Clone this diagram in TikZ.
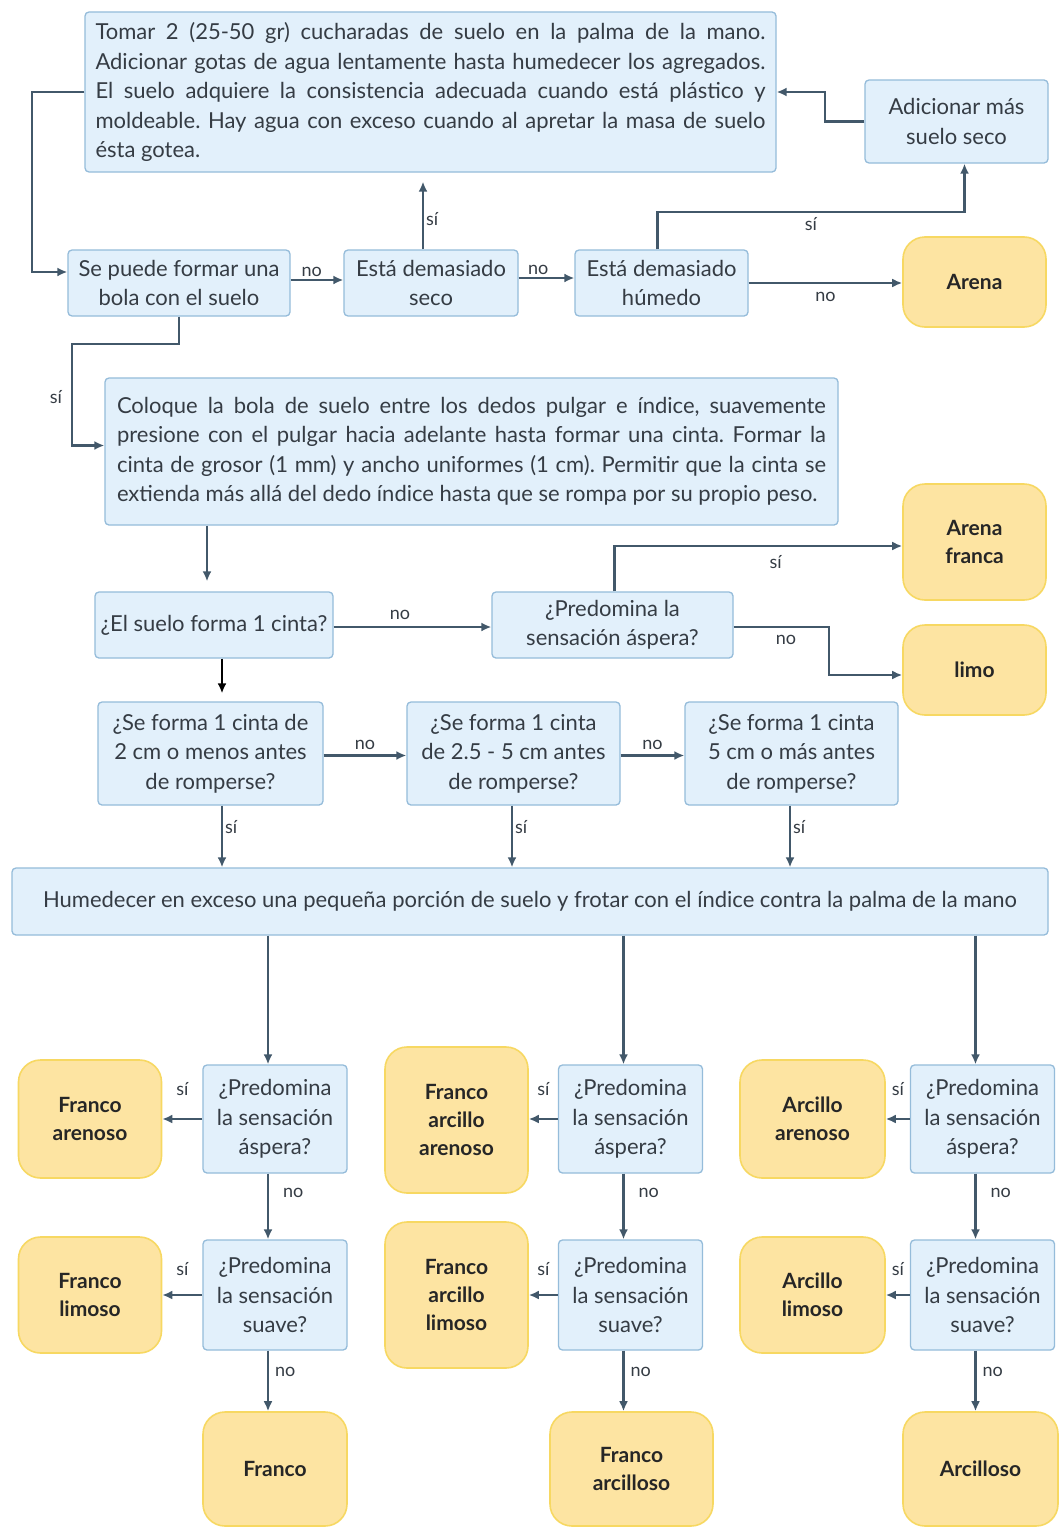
\documentclass[tikz,border=0pt]{standalone}
\usepackage{fontspec}
\setmainfont{Lato}
\usetikzlibrary{arrows.meta}
\definecolor{bfill}{HTML}{E2F0FB}
\definecolor{bline}{HTML}{95BCDA}
\definecolor{yfill}{HTML}{FDE4A2}
\definecolor{yline}{HTML}{F7D862}
\definecolor{txt}{HTML}{353C44}
\definecolor{acol}{HTML}{42586A}
\tikzset{
  qbox/.style={draw=bline, fill=bfill, rounded corners=4pt, line width=1.3pt, text=txt,
    align=center, inner sep=0pt, font=\fontsize{22}{29.5}\selectfont},
  res/.style={draw=yline, fill=yfill, rounded corners=22pt, line width=1.6pt, text=black!85,
    align=center, inner sep=0pt, minimum width=143pt, font=\bfseries\fontsize{21}{28}\selectfont},
  arr/.style={draw=acol, line width=2.2pt, -{Latex[length=10pt,width=9pt]}},
  lab/.style={text=txt, font=\fontsize{18}{20}\selectfont, inner sep=2pt},
}
\begin{document}
\frenchspacing
\begin{tikzpicture}[x=1pt,y=-1pt]
\useasboundingbox (0,0) rectangle (1062,1528);
\fill[white] (0,0) rectangle (1062,1528);

% ---------- top part ----------
\node[qbox, minimum width=691pt, minimum height=160pt, text width=670pt, align=justify] (T1) at (430.5,92)
 {Tomar 2 (25-50 gr) cucharadas de suelo en la palma de la mano.\linebreak
  Adicionar gotas de agua lentamente hasta humedecer los agregados.\linebreak
  El suelo adquiere la consistencia adecuada cuando está plástico y\linebreak
  moldeable. Hay agua con exceso cuando al apretar la masa de suelo\linebreak
  ésta gotea.};
\node[qbox, minimum width=183pt, minimum height=83pt] (Adic) at (956.5,121.5) {Adicionar más\\suelo seco};
\node[qbox, minimum width=222pt, minimum height=66pt] (SeP) at (179,283) {Se puede formar una\\bola con el suelo};
\node[qbox, minimum width=174pt, minimum height=66pt] (Seco) at (431,283) {Está demasiado\\seco};
\node[qbox, minimum width=173pt, minimum height=66pt] (Hum) at (661.5,283) {Está demasiado\\húmedo};
\node[res, minimum height=90pt] (Arena) at (974.5,282) {Arena};

\node[qbox, minimum width=733pt, minimum height=147pt, text width=709pt, align=justify] (Col) at (471.5,451.5)
 {Coloque la bola de suelo entre los dedos pulgar e índice, suavemente\linebreak
  presione con el pulgar hacia adelante hasta formar una cinta. Formar la\linebreak
  cinta de grosor (1 mm) y ancho uniformes (1 cm). Permitir que la cinta se\linebreak
  extienda más allá del dedo índice hasta que se rompa por su propio peso.};

\node[qbox, minimum width=238pt, minimum height=66pt] (Cinta) at (214,625) {¿El suelo forma 1 cinta?};
\node[qbox, minimum width=241pt, minimum height=66pt] (PredA) at (612.5,625) {¿Predomina la\\sensación áspera?};
\node[res, minimum height=116pt] (ArenaF) at (974.5,542) {Arena\\franca};
\node[res, minimum height=90pt] (Limo) at (974.5,670) {limo};

\node[qbox, minimum width=225pt, minimum height=103pt] (A) at (210.5,753.5) {¿Se forma 1 cinta de\\2 cm o menos antes\\de romperse?};
\node[qbox, minimum width=213pt, minimum height=103pt] (B) at (513.5,753.5) {¿Se forma 1 cinta\\de 2.5 - 5 cm antes\\de romperse?};
\node[qbox, minimum width=213pt, minimum height=103pt] (C) at (791.5,753.5) {¿Se forma 1 cinta\\5 cm o más antes\\de romperse?};

\node[qbox, minimum width=1036pt, minimum height=67pt] (H2) at (530,901.5)
 {Humedecer en exceso una pequeña porción de suelo y frotar con el índice contra la palma de la mano};

% ---------- bottom part ----------
\foreach \n/\x in {1/275,2/630.5,3/982.5}{
  \node[qbox, minimum width=144pt, minimum height=108pt] (Qa\n) at (\x,1119) {¿Predomina\\la sensación\\áspera?};
  \node[qbox, minimum width=144pt, minimum height=110pt] (Qb\n) at (\x,1295) {¿Predomina\\la sensación\\suave?};
}
\node[res, minimum height=118pt] (FA) at (90,1119) {Franco\\arenoso};
\node[res, minimum height=146pt] (FAA) at (456.5,1120) {Franco\\arcillo\\arenoso};
\node[res, minimum width=145pt, minimum height=118pt] (AA) at (812.5,1119) {Arcillo\\arenoso};
\node[res, minimum height=116pt] (FL) at (90,1295) {Franco\\limoso};
\node[res, minimum height=146pt] (FAL) at (456.5,1295) {Franco\\arcillo\\limoso};
\node[res, minimum width=145pt, minimum height=116pt] (AL) at (812.5,1295) {Arcillo\\limoso};
\node[res, minimum width=144pt, minimum height=114pt] (F) at (275,1469) {Franco};
\node[res, minimum width=163pt, minimum height=114pt] (FArc) at (631.5,1469) {Franco\\arcilloso};
\node[res, minimum width=155pt, minimum height=114pt] (Arc) at (980.5,1469) {Arcilloso};

% ---------- connectors ----------
\draw[arr] (T1.west) -- ++(-52,0) |- ([yshift=11pt]SeP.west);
\draw[arr] ([yshift=3pt]SeP.east) -- node[lab, above, pos=0.4] (l1) {no} ([yshift=3pt]Seco.west);
\draw[arr, shorten >=9pt] ([xshift=-8pt]Seco.north) -- node[lab, right, pos=0.4] (l2) {sí} ([xshift=-8pt]Seco.north |- T1.south);
\draw[arr] ([yshift=5pt]Seco.east) -- node[lab, above, pos=0.35] (l3) {no} ([yshift=5pt]Hum.west);
\draw[arr] ([xshift=-4pt]Hum.north) -- ++(0,-37) -| node[lab, below=2pt, pos=0.25] (l4) {sí} ([xshift=8pt]Adic.south);
\draw[arr] (Adic.west) -- ++(-39,0) |- (T1.east);
\draw[arr] (Hum.east) -- node[lab, below=6pt, pos=0.5] (l5) {no} (Hum.east -| Arena.west);
\draw[arr] (SeP.south) -- ++(0,27) -- ++(-107,0) |- node[lab, left=7pt, pos=0.26] (l6) {sí} ([yshift=6pt]Col.west);

\draw[arr, shorten >=10pt] ([xshift=-7pt]Col.south -| Cinta.north) -- ([xshift=-7pt]Cinta.north);
\draw[arr] ([yshift=-2pt]Cinta.east) -- node[lab, above=4pt, pos=0.42] (l7) {no} ([yshift=-2pt]PredA.west);
\draw[arr] ([xshift=2pt]PredA.north) |- node[lab, below=6pt, pos=0.78] (l8) {sí} ([yshift=-4pt]ArenaF.west);
\draw[arr] ([yshift=-2pt]PredA.east) -- ++(95,0) node[lab, below=5pt, pos=0.55] (l9) {no} |- ([yshift=-5pt]Limo.west);
\draw[draw=black, line width=2.2pt, -{Latex[length=10pt,width=9pt]}, shorten >=8pt]
  ([xshift=8pt]Cinta.south) -- ([xshift=8pt]Cinta.south |- A.north);

\draw[arr] ([yshift=-2pt]A.east) -- node[lab, above=3pt] (l10) {no} ([yshift=-2pt]B.west);
\draw[arr] ([yshift=-2pt]B.east) -- node[lab, above=3pt] (l11) {no} ([yshift=-2pt]C.west);
\draw[arr] ([xshift=11.5pt]A.south) -- node[lab, right, pos=0.35] (l12) {sí} ([xshift=11.5pt]A.south |- H2.north);
\draw[arr] ([xshift=-1.5pt]B.south) -- node[lab, right, pos=0.35] (l13) {sí} ([xshift=-1.5pt]B.south |- H2.north);
\draw[arr] ([xshift=-1.5pt]C.south) -- node[lab, right, pos=0.35] (l14) {sí} ([xshift=-1.5pt]C.south |- H2.north);

\foreach \n/\ra/\rb/\rc in {1/FA/FL/F,2/FAA/FAL/FArc,3/AA/AL/Arc}{
  \draw[arr] ([xshift=-7pt]Qa\n.north |- H2.south) -- ([xshift=-7pt]Qa\n.north);
  \draw[arr] (Qa\n.west) -- node[lab, above=20pt, pos=0.5] {sí} (Qa\n.west -| \ra.east);
  \draw[arr] ([xshift=-7pt]Qa\n.south) -- node[lab, right=12pt, pos=0.3] {no} ([xshift=-7pt]Qb\n.north);
  \draw[arr] (Qb\n.west) -- node[lab, above=16pt, pos=0.5] {sí} (Qb\n.west -| \rb.east);
  \draw[arr] ([xshift=-7pt]Qb\n.south) -- node[lab, right=4pt, pos=0.35] {no} ([xshift=-7pt]Qb\n.south |- \rc.north);
}
\end{tikzpicture}
\end{document}
